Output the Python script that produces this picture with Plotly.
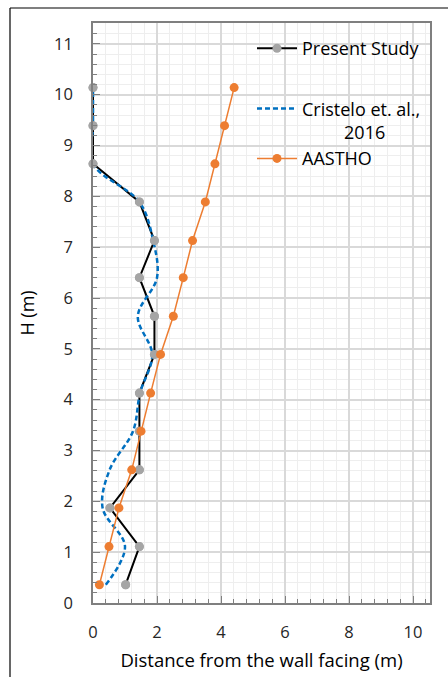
import plotly.graph_objects as go

# Data
H = [0.36, 1.11, 1.87, 2.62, 3.38, 4.13, 4.89, 5.64, 6.40, 7.13, 7.89, 8.64, 9.39, 10.14]
present_x = [1.02, 1.45, 0.53, 1.45, 1.45, 1.45, 1.92, 1.92, 1.45, 1.92, 1.45, 0.0, 0.0, 0.0]
cristelo_x = [0.40, 1.00, 0.30, 0.52, 1.25, 1.47, 1.85, 1.40, 2.00, 1.88, 1.45, 0.0, 0.0, 0.0]
aastho_x = [0.20, 0.50, 0.81, 1.21, 1.50, 1.80, 2.11, 2.51, 2.82, 3.11, 3.51, 3.81, 4.11, 4.41]

FONT = "Open Sans"
BLACK = "#000000"
GRAY = "#a5a5a5"
BLUE = "#0070c0"
ORANGE = "#ed7d31"

fig = go.Figure()
fig.add_trace(go.Scatter(
    x=present_x, y=H, mode="lines+markers", name="Present Study",
    line=dict(color=BLACK, width=2), marker=dict(color=GRAY, size=9),
    legendgroup="a", cliponaxis=False))
fig.add_trace(go.Scatter(
    x=cristelo_x, y=H, mode="lines", name="Cristelo et. al.,<br>" + "\u00a0" * 9 + "2016",
    line=dict(color=BLUE, width=2.5, dash="5px,3px", shape="spline", smoothing=1.0),
    legendgroup="b"))
fig.add_trace(go.Scatter(
    x=present_x, y=H, mode="markers", showlegend=False,
    marker=dict(color=GRAY, size=9), hoverinfo="skip", cliponaxis=False))
fig.add_trace(go.Scatter(
    x=aastho_x, y=H, mode="lines+markers", name="AASTHO",
    line=dict(color=ORANGE, width=1.5), marker=dict(color=ORANGE, size=9),
    legendgroup="b", cliponaxis=False))

axis_common = dict(
    showline=True, linecolor="#7f7f7f", linewidth=1.5, mirror=True,
    ticks="inside", tickcolor="#7f7f7f", tickwidth=1.2, ticklen=7,
    showgrid=True, gridcolor="#d9d9d9", gridwidth=1.5, zeroline=False,
    automargin=False,
    tickfont=dict(family=FONT, size=16.5, color="#262626"),
)

fig.update_xaxes(
    range=[0, 10.53], tick0=0, dtick=2, ticklabelstandoff=13,
    minor=dict(dtick=0.4, showgrid=True, gridcolor="#eeeeee", gridwidth=1.2,
               ticks="inside", ticklen=4, tickcolor="#7f7f7f"),
    title=dict(text="Distance from the wall facing (m)",
               font=dict(family=FONT, size=18.5, color="#000000"), standoff=13),
    **axis_common)
fig.update_yaxes(
    range=[0, 11.41], tick0=0, dtick=1, ticklabelstandoff=15,
    minor=dict(dtick=0.2, showgrid=True, gridcolor="#eeeeee", gridwidth=1.2,
               ticks="inside", ticklen=4, tickcolor="#7f7f7f"),
    title=dict(text="H (m)", font=dict(family=FONT, size=18, color="#000000"), standoff=15),
    **axis_common)

# outer chart frame (cropped in reference)
W, Hpx = 448, 677
L, R, T, B = 93, 18, 23, 74
pw, ph = W - L - R, Hpx - T - B
def px(x):
    return (x - L) / pw
def py(y):
    return (Hpx - B - y) / ph
fig.add_shape(type="line", xref="paper", yref="paper",
              x0=px(10), x1=px(460), y0=py(8), y1=py(8),
              line=dict(color="#000000", width=1.2))
fig.add_shape(type="line", xref="paper", yref="paper",
              x0=px(10), x1=px(10), y0=py(8), y1=py(700),
              line=dict(color="#000000", width=1.2))

fig.update_layout(
    width=W, height=Hpx,
    margin=dict(l=L, r=R, t=T, b=B),
    paper_bgcolor="white", plot_bgcolor="white",
    font=dict(family=FONT, size=16, color="#000000"),
    showlegend=True,
    legend=dict(x=px(252), y=py(30), xanchor="left", yanchor="top",
                bgcolor="rgba(255,255,255,0)", borderwidth=0,
                font=dict(family=FONT, size=18, color="#000000"),
                itemwidth=40, traceorder="grouped", tracegroupgap=34,
                valign="top"),
)

fig.write_html("out.html")
